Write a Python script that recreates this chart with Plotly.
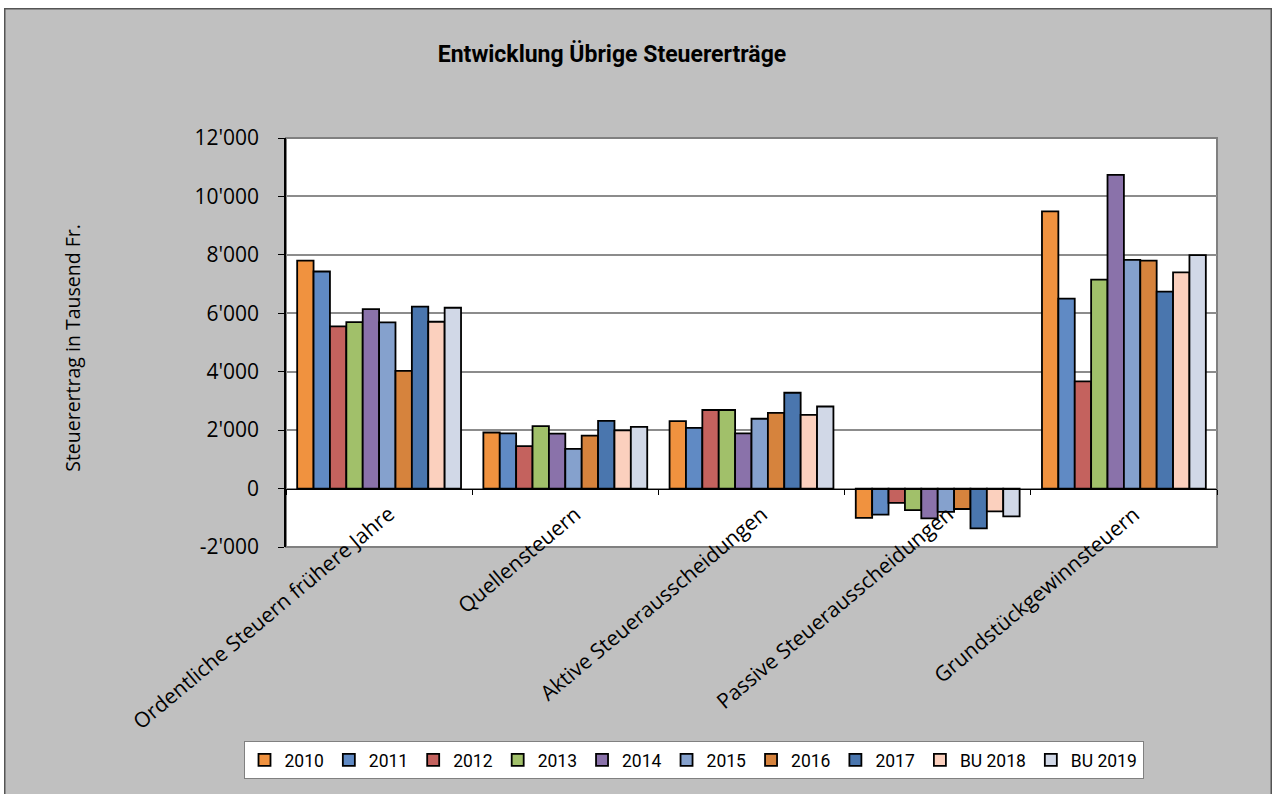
import plotly.graph_objects as go

categories = [
    "Ordentliche Steuern frühere Jahre",
    "Quellensteuern",
    "Aktive Steuerausscheidungen",
    "Passive Steuerausscheidungen",
    "Grundstückgewinnsteuern",
]

years = ["2010", "2011", "2012", "2013", "2014", "2015", "2016", "2017", "BU 2018", "BU 2019"]

# Steuerertrag in Tausend Fr., one list per year (order = categories)
v2010 = [7800, 1920, 2310, -1000, 9490]
v2011 = [7430, 1890, 2080, -890, 6500]
v2012 = [5550, 1450, 2690, -490, 3670]
v2013 = [5700, 2140, 2690, -740, 7150]
v2014 = [6140, 1880, 1890, -1020, 10740]
v2015 = [5690, 1360, 2390, -800, 7830]
v2016 = [4030, 1810, 2590, -700, 7800]
v2017 = [6230, 2320, 3280, -1360, 6740]
bu2018 = [5710, 1990, 2520, -780, 7400]
bu2019 = [6190, 2110, 2810, -950, 7990]

series = [v2010, v2011, v2012, v2013, v2014, v2015, v2016, v2017, bu2018, bu2019]

colors = ["#F0923F", "#608AC4", "#C4625E", "#A1C06A", "#8A72AA",
          "#85A1CD", "#D6833D", "#4A76AE", "#FBD0BE", "#D1D8E7"]

y_ticks = [-2000, 0, 2000, 4000, 6000, 8000, 10000, 12000]
y_ticktext = ["-2'000", "0", "2'000", "4'000", "6'000", "8'000", "10'000", "12'000"]
y_range = [-2000, 12000]

# page offset of the chart (white strip left/top in the original screenshot)
OX, OY = 4, 8
W, H = 1268, 786
L, T = 282, 130
pw, ph = 931, 409
R, B = W - L - pw, H - T - ph

fig = go.Figure()
for name, vals, col in zip(years, series, colors):
    fig.add_trace(go.Bar(
        x=categories, y=vals, name=name,
        marker=dict(color=col, line=dict(color="black", width=1.8)),
    ))

# category labels sit just below the zero line, like in the Excel original
for c in categories:
    fig.add_annotation(
        x=c, y=0, xref="x", yref="y", text=c, showarrow=False,
        textangle=-40, xanchor="right", yanchor="top",
        xshift=24, yshift=-8,
        font=dict(family="Open Sans", size=21, color="black"),
    )

# y axis title
fig.add_annotation(
    x=(73 - OX - L) / pw, y=0.487, xref="paper", yref="paper",
    xanchor="center", yanchor="middle",
    text="Steuerertrag in Tausend Fr.", textangle=-90, showarrow=False,
    font=dict(family="Open Sans", size=19.5, color="black"),
)

# plot area frame and outer chart frame
fig.add_shape(type="rect", xref="paper", yref="paper", x0=0, y0=0, x1=1, y1=1,
              line=dict(color="#808080", width=2), layer="below", fillcolor="white")
fig.add_shape(type="rect", xref="paper", yref="paper",
              x0=(-L + 0.75) / pw, y0=(-B - 10) / ph,
              x1=(W - L - 0.75) / pw, y1=1 + (T - 0.75) / ph,
              line=dict(color="#555555", width=1.5), layer="below")

zero_pos = (0 - y_range[0]) / (y_range[1] - y_range[0])

fig.update_layout(
    width=W, height=H,
    margin=dict(l=L, r=R, t=T, b=B, autoexpand=False),
    paper_bgcolor="#C0C0C0",
    plot_bgcolor="rgba(0,0,0,0)",
    barmode="group", bargap=0.12, bargroupgap=0,
    title=dict(
        text="<b>Entwicklung Übrige Steuererträge</b>",
        x=(612 - OX) / W, xanchor="center", y=1 - (54 - OY) / H, yanchor="middle",
        font=dict(family="Roboto", size=23, color="black"),
    ),
    xaxis=dict(
        range=[-0.5, len(categories) - 0.5],
        anchor="free", position=zero_pos,
        showline=True, linecolor="black", linewidth=1,
        ticks="outside", tickson="boundaries", ticklen=5, tickcolor="black",
        showticklabels=False, showgrid=False,
    ),
    yaxis=dict(
        range=y_range, tickvals=y_ticks, ticktext=y_ticktext,
        showline=True, linecolor="black", linewidth=1.5,
        ticks="outside", ticklen=6, tickcolor="black",
        showgrid=True, gridcolor="#8C8C8C", gridwidth=1.5,
        zeroline=False, ticklabelstandoff=15,
        tickfont=dict(family="Open Sans", size=21, color="black"),
    ),
    legend=dict(
        orientation="h", x=(693.5 - OX - L) / pw, xanchor="center",
        y=(T + ph - (741 - OY)) / ph, yanchor="top",
        bgcolor="white", bordercolor="#808080", borderwidth=1,
        font=dict(family="Roboto", size=17.5, color="black"),
        itemwidth=30, traceorder="normal",
    ),
    showlegend=True,
)

fig.write_html("out.html", post_script=f"document.body.style.margin='{OY}px 0 0 {OX}px';")
